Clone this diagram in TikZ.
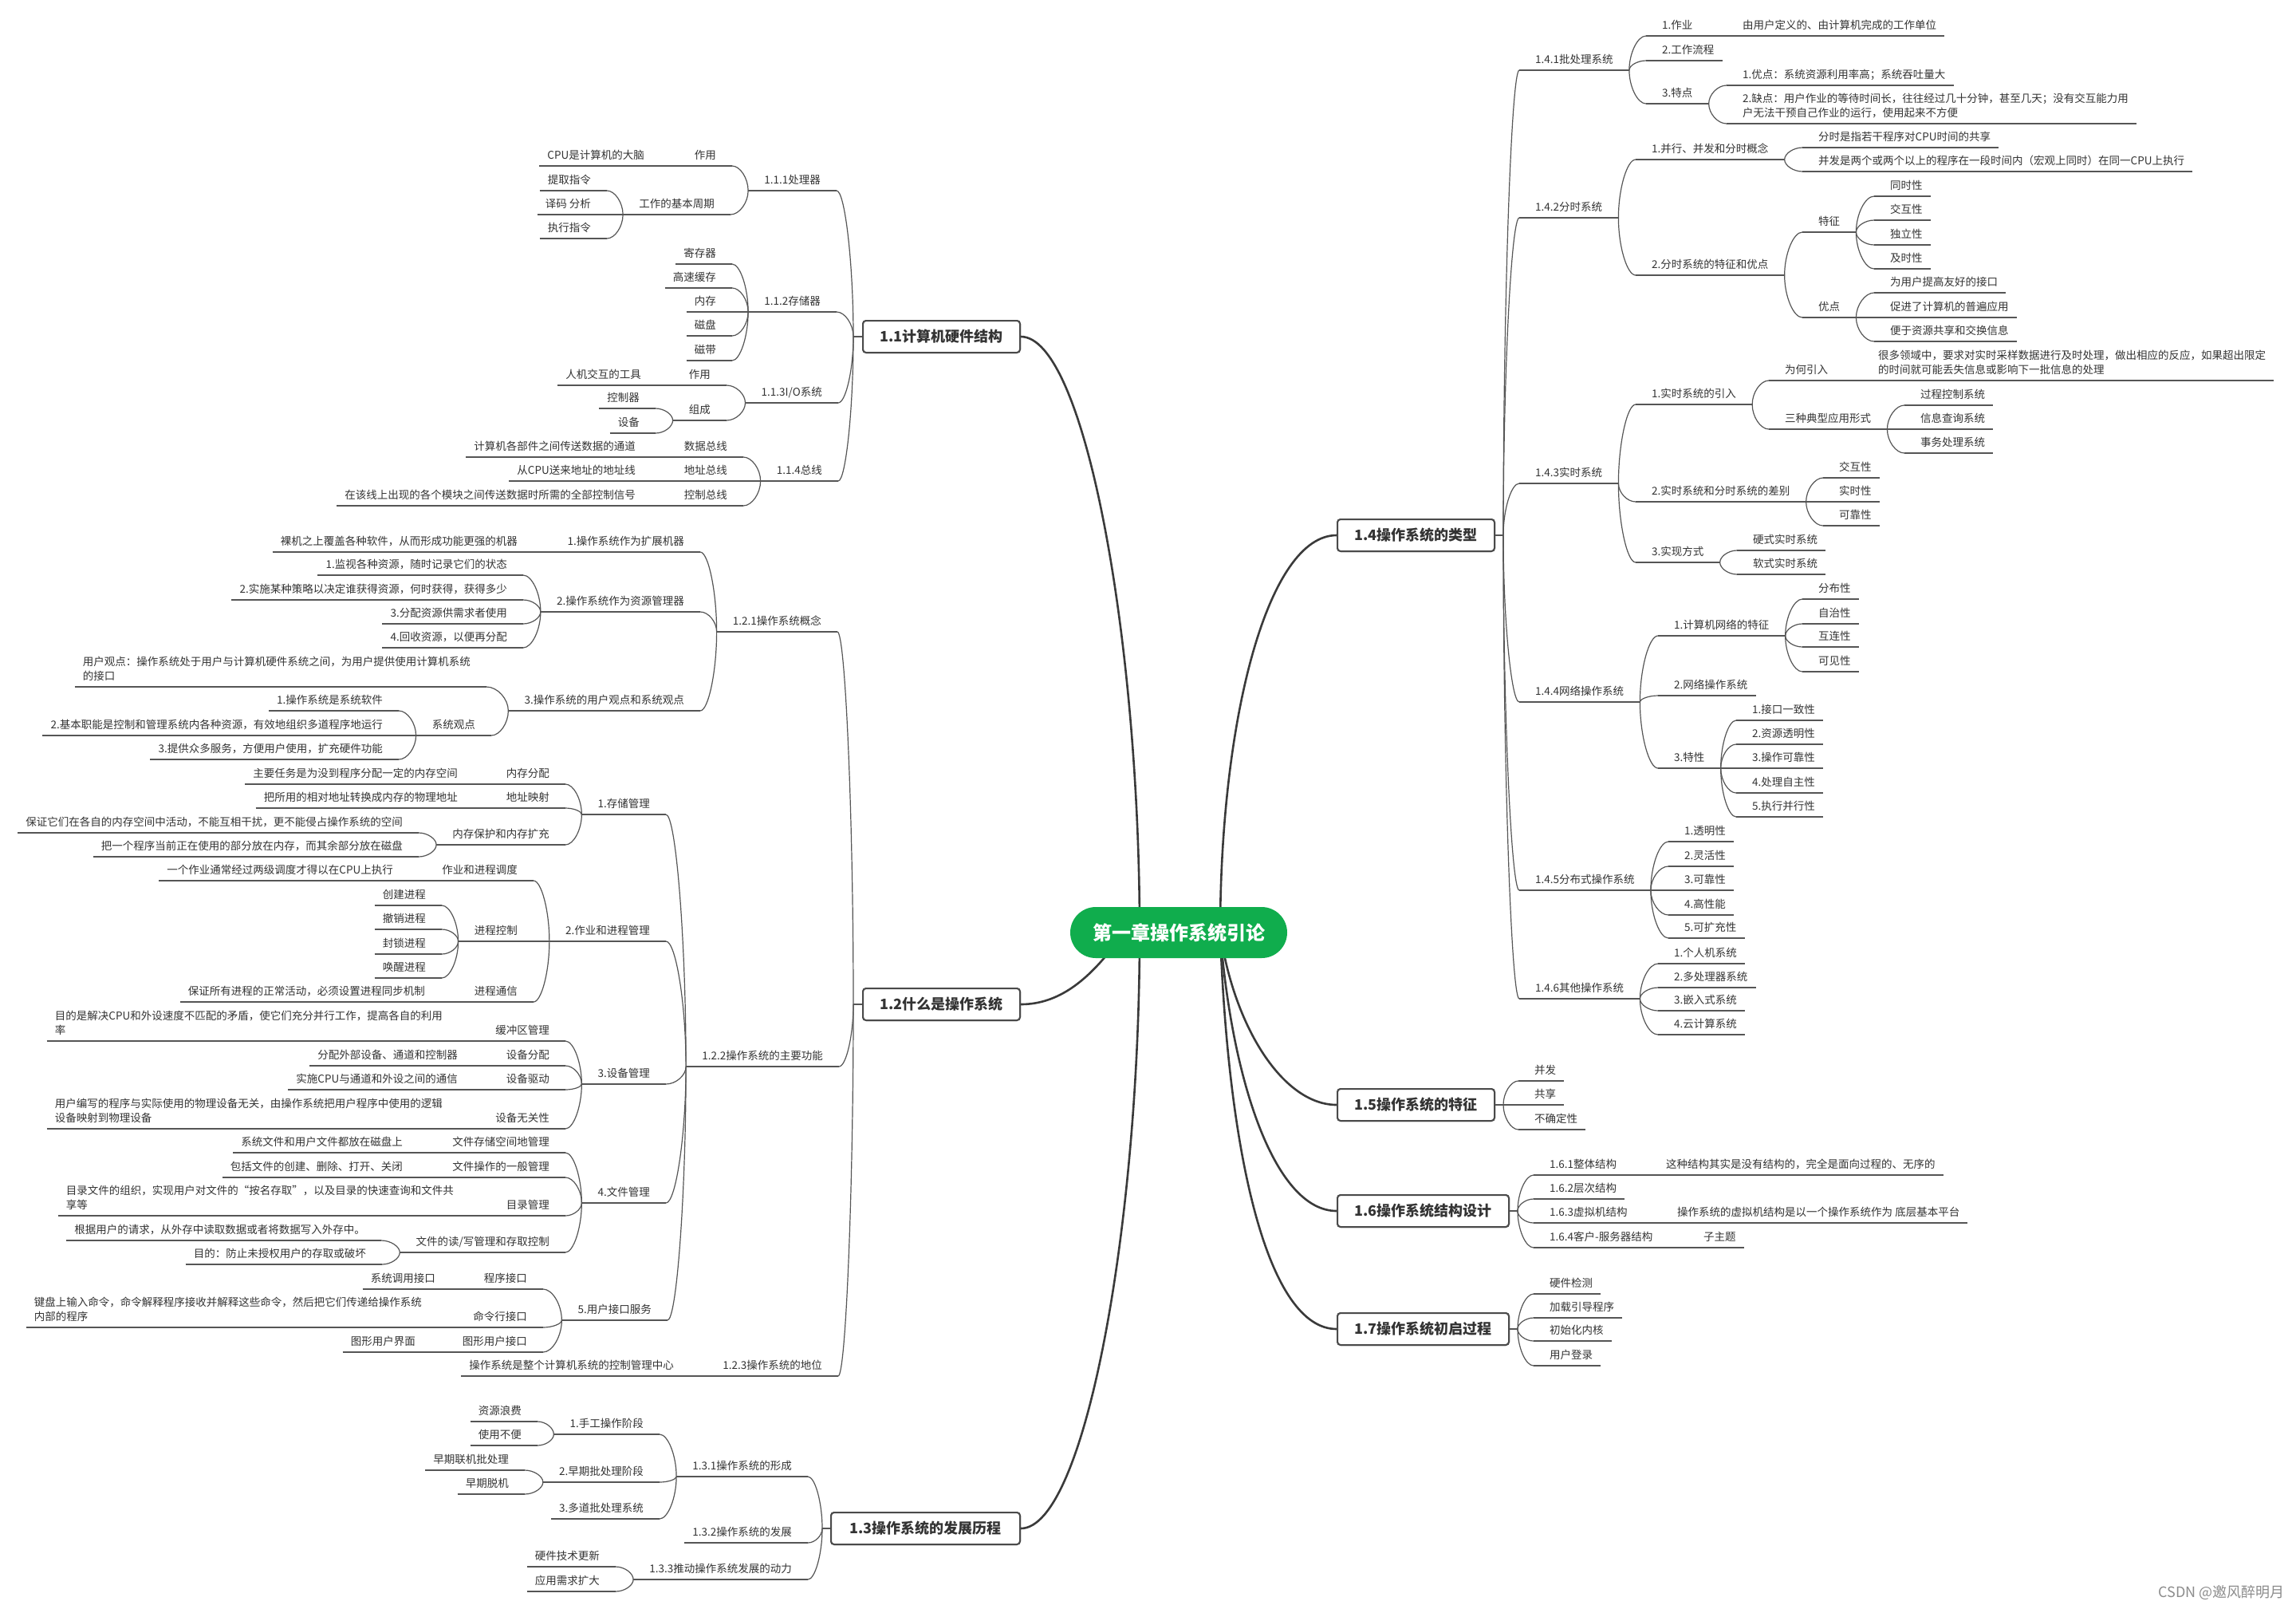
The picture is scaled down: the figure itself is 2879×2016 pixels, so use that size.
\documentclass[tikz,border=0pt]{standalone}
\usepackage{fontspec}
\setmainfont{Noto Sans CJK SC}
\usetikzlibrary{calc}
\definecolor{txt}{HTML}{333333}
\definecolor{ln}{HTML}{555555}
\definecolor{bx}{HTML}{4A4A4A}
\definecolor{mc}{HTML}{3A3A3A}
\definecolor{grn}{HTML}{10AD4D}
\tikzset{
  lt/.style={anchor=south east, inner xsep=10pt, inner ysep=5pt, text depth=3pt, align=left, text=txt, font=\fontsize{13.5}{18}\selectfont},
  rt/.style={anchor=south west, inner xsep=10pt, inner ysep=5pt, text depth=3pt, align=left, text=txt, font=\fontsize{13.5}{18}\selectfont},
  ul/.style={draw=ln, line width=1.2pt},
  br/.style={draw=ln, line width=1.2pt},
  mainc/.style={draw=mc, line width=2.6pt},
  topbox/.style={draw=bx, line width=2pt, rounded corners=4pt, fill=white, minimum height=40pt, inner sep=0pt, text=txt, font=\fontsize{18}{20}\bfseries\selectfont},
  pill/.style={fill=grn, rounded corners=32pt, minimum width=272pt, minimum height=64pt, inner sep=0pt, text=white, font=\fontsize{24}{26}\bfseries\selectfont},
}
% left-side leaf / parent, right-side leaf / parent: name, near x, line y, text
\newcommand\LF[4]{\node[lt] (#1) at (#2-10,#3) {#4};\coordinate (#1-n) at (#2,#3);\coordinate (#1-f) at (#1.south west);\draw[ul] (#1-f) -- (#1-n);}
\newcommand\LP[4]{\node[lt] (#1) at (#2-10,#3) {#4};\coordinate (#1-n) at (#2,#3);\coordinate (#1-f) at ([xshift=-10pt]#1.south west);\draw[ul] (#1-f) -- (#1-n);}
\newcommand\RF[4]{\node[rt] (#1) at (#2+10,#3) {#4};\coordinate (#1-n) at (#2,#3);\coordinate (#1-f) at (#1.south east);\draw[ul] (#1-n) -- (#1-f);}
\newcommand\RP[4]{\node[rt] (#1) at (#2+10,#3) {#4};\coordinate (#1-n) at (#2,#3);\coordinate (#1-f) at ([xshift=10pt]#1.south east);\draw[ul] (#1-n) -- (#1-f);}
\newcommand\CC[2]{\draw[br] let \p1=(#1-f), \p2=(#2-n) in (\p1) .. controls (\x1,{0.5*\y1+0.5*\y2}) and ({0.5*\x1+0.5*\x2},\y2) .. (\p2);}
\begin{document}
\begin{tikzpicture}[x=1pt,y=-1pt]
\useasboundingbox (0,0) rectangle (2879,2016);
\fill[white] (0,0) rectangle (2879,2016);

% ---------- top-level boxes ----------
\node[topbox, minimum width=197pt, anchor=east] (b11) at (1280,422) {1.1计算机硬件结构};
\node[topbox, minimum width=197pt, anchor=east] (b12) at (1280,1259) {1.2什么是操作系统};
\node[topbox, minimum width=237pt, anchor=east] (b13) at (1280,1916) {1.3操作系统的发展历程};
\node[topbox, minimum width=197pt, anchor=west] (b14) at (1676,671) {1.4操作系统的类型};
\node[topbox, minimum width=197pt, anchor=west] (b15) at (1676,1385) {1.5操作系统的特征};
\node[topbox, minimum width=215pt, anchor=west] (b16) at (1676,1518) {1.6操作系统结构设计};
\node[topbox, minimum width=215pt, anchor=west] (b17) at (1676,1666) {1.7操作系统初启过程};
\coordinate (c0) at (1478,1169);
\draw[mainc] ([xshift=-49pt]c0) .. controls (1429,800) and (1360,422) .. (b11.east);
\draw[mainc] ([xshift=-49pt]c0) .. controls (1429,1538) and (1360,1916) .. (b13.east);
\draw[mainc] ([xshift=-86pt,yshift=-23pt]c0) .. controls (1365,1225) and (1330,1259) .. (b12.east);
\draw[mainc] ([xshift=52pt]c0) .. controls (1530,900) and (1590,671) .. (b14.west);
\draw[mainc] ([xshift=52pt]c0) .. controls (1548,1290) and (1610,1385) .. (b15.west);
\draw[mainc] ([xshift=52pt]c0) .. controls (1545,1360) and (1600,1518) .. (b16.west);
\draw[mainc] ([xshift=52pt]c0) .. controls (1540,1450) and (1590,1666) .. (b17.west);
\node[pill] (c) at (c0) {第一章操作系统引论};
\node[topbox, minimum width=197pt, anchor=east] at (1280,422) {1.1计算机硬件结构};
\node[topbox, minimum width=197pt, anchor=east] at (1280,1259) {1.2什么是操作系统};
\node[topbox, minimum width=237pt, anchor=east] at (1280,1916) {1.3操作系统的发展历程};
\node[topbox, minimum width=197pt, anchor=west] at (1676,671) {1.4操作系统的类型};
\node[topbox, minimum width=197pt, anchor=west] at (1676,1385) {1.5操作系统的特征};
\node[topbox, minimum width=215pt, anchor=west] at (1676,1518) {1.6操作系统结构设计};
\node[topbox, minimum width=215pt, anchor=west] at (1676,1666) {1.7操作系统初启过程};
\foreach \b/\s in {b11/-11,b12/-11,b13/-10} {\coordinate (\b-f) at ([xshift=\s pt]\b.west); \draw[br] (\b.west) -- (\b-f);}
\foreach \b/\s in {b14/10,b15/10,b16/10,b17/10} {\coordinate (\b-f) at ([xshift=\s pt]\b.east); \draw[br] (\b.east) -- (\b-f);}

% ---------- 1.1 ----------
\LP{a1}{1049}{239}{1.1.1处理器}
\LP{a1a}{918}{208}{作用}
\LF{a1a1}{828}{208}{CPU是计算机的大脑}
\LP{a1b}{916}{269}{工作的基本周期}
\LF{a1b1}{761}{239}{提取指令}
\LF{a1b2}{761}{269}{译码 分析}
\LF{a1b3}{761}{299}{执行指令}
\LP{a2}{1049}{391}{1.1.2存储器}
\LF{a2a}{918}{331}{寄存器}
\LF{a2b}{918}{361}{高速缓存}
\LF{a2c}{918}{391}{内存}
\LF{a2d}{918}{421}{磁盘}
\LF{a2e}{918}{452}{磁带}
\LP{a3}{1051}{505}{1.1.3I/O系统}
\LP{a3a}{911}{483}{作用}
\LF{a3a1}{824}{483}{人机交互的工具}
\LP{a3b}{911}{527}{组成}
\LF{a3b1}{822}{512}{控制器}
\LF{a3b2}{822}{543}{设备}
\LP{a4}{1051}{603}{1.1.4总线}
\LP{a4a}{932}{573}{数据总线}
\LF{a4a1}{817}{573}{计算机各部件之间传送数据的通道}
\LP{a4b}{932}{603}{地址总线}
\LF{a4b1}{817}{603}{从CPU送来地址的地址线}
\LP{a4c}{932}{634}{控制总线}
\LF{a4c1}{817}{634}{在该线上出现的各个模块之间传送数据时所需的全部控制信号}
\CC{b11}{a1}\CC{b11}{a2}\CC{b11}{a3}\CC{b11}{a4}
\CC{a1}{a1a}\CC{a1a}{a1a1}\CC{a1}{a1b}\CC{a1b}{a1b1}\CC{a1b}{a1b2}\CC{a1b}{a1b3}
\CC{a2}{a2a}\CC{a2}{a2b}\CC{a2}{a2c}\CC{a2}{a2d}\CC{a2}{a2e}
\CC{a3}{a3a}\CC{a3a}{a3a1}\CC{a3}{a3b}\CC{a3b}{a3b1}\CC{a3b}{a3b2}
\CC{a4}{a4a}\CC{a4a}{a4a1}\CC{a4}{a4b}\CC{a4b}{a4b1}\CC{a4}{a4c}\CC{a4c}{a4c1}

% ---------- 1.2 ----------
\LP{c1}{1050}{792}{1.2.1操作系统概念}
\LP{c1a}{878}{692}{1.操作系统作为扩展机器}
\LF{c1a1}{669}{692}{裸机之上覆盖各种软件，从而形成功能更强的机器}
\LP{c1b}{878}{767}{2.操作系统作为资源管理器}
\LF{c1b1}{656}{721}{1.监视各种资源，随时记录它们的状态}
\LF{c1b2}{656}{752}{2.实施某种策略以决定谁获得资源，何时获得，获得多少}
\LF{c1b3}{656}{782}{3.分配资源供需求者使用}
\LF{c1b4}{656}{812}{4.回收资源，以便再分配}
\LP{c1c}{878}{891}{3.操作系统的用户观点和系统观点}
\LF{c1c1}{610}{861}{用户观点：操作系统处于用户与计算机硬件系统之间，为用户提供使用计算机系统\\的接口}
\LP{c1c2}{616}{922}{系统观点}
\LF{c1c2a}{500}{891}{1.操作系统是系统软件}
\LF{c1c2b}{500}{922}{2.基本职能是控制和管理系统内各种资源，有效地组织多道程序地运行}
\LF{c1c2c}{500}{952}{3.提供众多服务，方便用户使用，扩充硬件功能}
\CC{b12}{c1}\CC{c1}{c1a}\CC{c1a}{c1a1}\CC{c1}{c1b}\CC{c1b}{c1b1}\CC{c1b}{c1b2}\CC{c1b}{c1b3}\CC{c1b}{c1b4}
\CC{c1}{c1c}\CC{c1c}{c1c1}\CC{c1c}{c1c2}\CC{c1c2}{c1c2a}\CC{c1c2}{c1c2b}\CC{c1c2}{c1c2c}

\LP{c2}{1052}{1337}{1.2.2操作系统的主要功能}
\LP{c21}{835}{1021}{1.存储管理}
\LP{c21a}{709}{983}{内存分配}
\LF{c21a1}{594}{983}{主要任务是为没到程序分配一定的内存空间}
\LP{c21b}{709}{1013}{地址映射}
\LF{c21b1}{594}{1013}{把所用的相对地址转换成内存的物理地址}
\LP{c21c}{709}{1059}{内存保护和内存扩充}
\LF{c21c1}{525}{1044}{保证它们在各自的内存空间中活动，不能互相干扰，更不能侵占操作系统的空间}
\LF{c21c2}{525}{1074}{把一个程序当前正在使用的部分放在内存，而其余部分放在磁盘}
\LP{c22}{835}{1180}{2.作业和进程管理}
\LP{c22a}{669}{1104}{作业和进程调度}
\LF{c22a1}{513}{1104}{一个作业通常经过两级调度才得以在CPU上执行}
\LP{c22b}{669}{1180}{进程控制}
\LF{c22b1}{554}{1135}{创建进程}
\LF{c22b2}{554}{1165}{撤销进程}
\LF{c22b3}{554}{1196}{封锁进程}
\LF{c22b4}{554}{1226}{唤醒进程}
\LP{c22c}{669}{1256}{进程通信}
\LF{c22c1}{553}{1256}{保证所有进程的正常活动，必须设置进程同步机制}
\LP{c23}{835}{1359}{3.设备管理}
\LP{c23a}{709}{1305}{缓冲区管理}
\LF{c23a1}{575}{1305}{目的是解决CPU和外设速度不匹配的矛盾，使它们充分并行工作，提高各自的利用\\率}
\LP{c23b}{709}{1336}{设备分配}
\LF{c23b1}{594}{1336}{分配外部设备、通道和控制器}
\LP{c23c}{709}{1366}{设备驱动}
\LF{c23c1}{594}{1366}{实施CPU与通道和外设之间的通信}
\LP{c23d}{709}{1415}{设备无关性}
\LF{c23d1}{575}{1415}{用户编写的程序与实际使用的物理设备无关，由操作系统把用户程序中使用的逻辑\\设备映射到物理设备}
\LP{c24}{835}{1508}{4.文件管理}
\LP{c24a}{709}{1445}{文件存储空间地管理}
\LF{c24a1}{525}{1445}{系统文件和用户文件都放在磁盘上}
\LP{c24b}{709}{1476}{文件操作的一般管理}
\LF{c24b1}{525}{1476}{包括文件的创建、删除、打开、关闭}
\LP{c24c}{709}{1524}{目录管理}
\LF{c24c1}{589}{1524}{目录文件的组织，实现用户对文件的“按名存取”，以及目录的快速查询和文件共\\享等}
\LP{c24d}{709}{1570}{文件的读/写管理和存取控制}
\LF{c24d1}{478}{1555}{根据用户的请求，从外存中读取数据或者将数据写入外存中。}
\LF{c24d2}{479}{1585}{目的：防止未授权用户的存取或破坏}
\LP{c25}{837}{1655}{5.用户接口服务}
\LP{c25a}{681}{1616}{程序接口}
\LF{c25a1}{566}{1616}{系统调用接口}
\LP{c25b}{681}{1664}{命令行接口}
\LF{c25b1}{549}{1664}{键盘上输入命令，命令解释程序接收并解释这些命令，然后把它们传递给操作系统\\内部的程序}
\LP{c25c}{681}{1695}{图形用户接口}
\LF{c25c1}{541}{1695}{图形用户界面}
\CC{b12}{c2}
\CC{c2}{c21}\CC{c21}{c21a}\CC{c21a}{c21a1}\CC{c21}{c21b}\CC{c21b}{c21b1}\CC{c21}{c21c}\CC{c21c}{c21c1}\CC{c21c}{c21c2}
\CC{c2}{c22}\CC{c22}{c22a}\CC{c22a}{c22a1}\CC{c22}{c22b}\CC{c22b}{c22b1}\CC{c22b}{c22b2}\CC{c22b}{c22b3}\CC{c22b}{c22b4}\CC{c22}{c22c}\CC{c22c}{c22c1}
\CC{c2}{c23}\CC{c23}{c23a}\CC{c23a}{c23a1}\CC{c23}{c23b}\CC{c23b}{c23b1}\CC{c23}{c23c}\CC{c23c}{c23c1}\CC{c23}{c23d}\CC{c23d}{c23d1}
\CC{c2}{c24}\CC{c24}{c24a}\CC{c24a}{c24a1}\CC{c24}{c24b}\CC{c24b}{c24b1}\CC{c24}{c24c}\CC{c24c}{c24c1}\CC{c24}{c24d}\CC{c24d}{c24d1}\CC{c24d}{c24d2}
\CC{c2}{c25}\CC{c25}{c25a}\CC{c25a}{c25a1}\CC{c25}{c25b}\CC{c25b}{c25b1}\CC{c25}{c25c}\CC{c25c}{c25c1}
\LP{c3}{1051}{1725}{1.2.3操作系统的地位}
\LF{c3a}{865}{1725}{操作系统是整个计算机系统的控制管理中心}
\CC{b12}{c3}\CC{c3}{c3a}

% ---------- 1.3 ----------
\LP{d1}{1013}{1851}{1.3.1操作系统的形成}
\LP{d1a}{827}{1798}{1.手工操作阶段}
\LF{d1a1}{674}{1782}{资源浪费}
\LF{d1a2}{674}{1812}{使用不便}
\LP{d1b}{827}{1858}{2.早期批处理阶段}
\LF{d1b1}{658}{1843}{早期联机批处理}
\LF{d1b2}{658}{1873}{早期脱机}
\LF{d1c}{827}{1904}{3.多道批处理系统}
\LF{d2}{1013}{1934}{1.3.2操作系统的发展}
\LP{d3}{1013}{1980}{1.3.3推动操作系统发展的动力}
\LF{d3a}{772}{1964}{硬件技术更新}
\LF{d3b}{772}{1995}{应用需求扩大}
\CC{b13}{d1}\CC{d1}{d1a}\CC{d1a}{d1a1}\CC{d1a}{d1a2}\CC{d1}{d1b}\CC{d1b}{d1b1}\CC{d1b}{d1b2}\CC{d1}{d1c}
\CC{b13}{d2}\CC{b13}{d3}\CC{d3}{d3a}\CC{d3}{d3b}

% ---------- 1.4 ----------
\RP{e1}{1905}{88}{1.4.1批处理系统}
\RP{e1a}{2064}{45}{1.作业}
\RF{e1a1}{2165}{45}{由用户定义的、由计算机完成的工作单位}
\RF{e1b}{2064}{76}{2.工作流程}
\RP{e1c}{2064}{130}{3.特点}
\RF{e1c1}{2165}{107}{1.优点：系统资源利用率高；系统吞吐量大}
\RF{e1c2}{2165}{155}{2.缺点：用户作业的等待时间长，往往经过几十分钟，甚至几天；没有交互能力用\\户无法干预自己作业的运行，使用起来不方便}
\CC{b14}{e1}\CC{e1}{e1a}\CC{e1a}{e1a1}\CC{e1}{e1b}\CC{e1}{e1c}\CC{e1c}{e1c1}\CC{e1c}{e1c2}
\RP{e2}{1905}{273}{1.4.2分时系统}
\RP{e2a}{2051}{200}{1.并行、并发和分时概念}
\RF{e2a1}{2260}{185}{分时是指若干程序对CPU时间的共享}
\RF{e2a2}{2260}{215}{并发是两个或两个以上的程序在一段时间内（宏观上同时）在同一CPU上执行}
\RP{e2b}{2051}{345}{2.分时系统的特征和优点}
\RP{e2b1}{2260}{291}{特征}
\RF{e2b1a}{2350}{246}{同时性}
\RF{e2b1b}{2350}{276}{交互性}
\RF{e2b1c}{2350}{307}{独立性}
\RF{e2b1d}{2350}{337}{及时性}
\RP{e2b2}{2260}{398}{优点}
\RF{e2b2a}{2350}{367}{为用户提高友好的接口}
\RF{e2b2b}{2350}{398}{促进了计算机的普遍应用}
\RF{e2b2c}{2350}{428}{便于资源共享和交换信息}
\CC{b14}{e2}\CC{e2}{e2a}\CC{e2a}{e2a1}\CC{e2a}{e2a2}\CC{e2}{e2b}\CC{e2b}{e2b1}\CC{e2b}{e2b2}
\CC{e2b1}{e2b1a}\CC{e2b1}{e2b1b}\CC{e2b1}{e2b1c}\CC{e2b1}{e2b1d}\CC{e2b2}{e2b2a}\CC{e2b2}{e2b2b}\CC{e2b2}{e2b2c}
\RP{e3}{1905}{606}{1.4.3实时系统}
\RP{e3a}{2051}{507}{1.实时系统的引入}
\RP{e3a1}{2218}{477}{为何引入}
\RF{e3a1a}{2335}{477}{很多领域中，要求对实时采样数据进行及时处理，做出相应的反应，如果超出限定\\的时间就可能丢失信息或影响下一批信息的处理}
\RP{e3a2}{2218}{538}{三种典型应用形式}
\RF{e3a2a}{2388}{508}{过程控制系统}
\RF{e3a2b}{2388}{538}{信息查询系统}
\RF{e3a2c}{2388}{568}{事务处理系统}
\RP{e3b}{2051}{629}{2.实时系统和分时系统的差别}
\RF{e3b1}{2286}{599}{交互性}
\RF{e3b2}{2286}{629}{实时性}
\RF{e3b3}{2286}{659}{可靠性}
\RP{e3c}{2051}{705}{3.实现方式}
\RF{e3c1}{2178}{690}{硬式实时系统}
\RF{e3c2}{2178}{720}{软式实时系统}
\CC{b14}{e3}\CC{e3}{e3a}\CC{e3a}{e3a1}\CC{e3a1}{e3a1a}\CC{e3a}{e3a2}\CC{e3a2}{e3a2a}\CC{e3a2}{e3a2b}\CC{e3a2}{e3a2c}
\CC{e3}{e3b}\CC{e3b}{e3b1}\CC{e3b}{e3b2}\CC{e3b}{e3b3}\CC{e3}{e3c}\CC{e3c}{e3c1}\CC{e3c}{e3c2}
\RP{e4}{1905}{880}{1.4.4网络操作系统}
\RP{e4a}{2079}{797}{1.计算机网络的特征}
\RF{e4a1}{2260}{751}{分布性}
\RF{e4a2}{2260}{782}{自治性}
\RF{e4a3}{2260}{811}{互连性}
\RF{e4a4}{2260}{842}{可见性}
\RF{e4b}{2079}{872}{2.网络操作系统}
\RP{e4c}{2079}{963}{3.特性}
\RF{e4c1}{2177}{903}{1.接口一致性}
\RF{e4c2}{2177}{933}{2.资源透明性}
\RF{e4c3}{2177}{963}{3.操作可靠性}
\RF{e4c4}{2177}{994}{4.处理自主性}
\RF{e4c5}{2177}{1024}{5.执行并行性}
\CC{b14}{e4}\CC{e4}{e4a}\CC{e4a}{e4a1}\CC{e4a}{e4a2}\CC{e4a}{e4a3}\CC{e4a}{e4a4}\CC{e4}{e4b}
\CC{e4}{e4c}\CC{e4c}{e4c1}\CC{e4c}{e4c2}\CC{e4c}{e4c3}\CC{e4c}{e4c4}\CC{e4c}{e4c5}
\RP{e5}{1905}{1116}{1.4.5分布式操作系统}
\RF{e5a}{2092}{1055}{1.透明性}
\RF{e5b}{2092}{1086}{2.灵活性}
\RF{e5c}{2092}{1116}{3.可靠性}
\RF{e5d}{2092}{1147}{4.高性能}
\RF{e5e}{2092}{1176}{5.可扩充性}
\CC{b14}{e5}\CC{e5}{e5a}\CC{e5}{e5b}\CC{e5}{e5c}\CC{e5}{e5d}\CC{e5}{e5e}
\RP{e6}{1905}{1252}{1.4.6其他操作系统}
\RF{e6a}{2079}{1208}{1.个人机系统}
\RF{e6b}{2079}{1238}{2.多处理器系统}
\RF{e6c}{2079}{1267}{3.嵌入式系统}
\RF{e6d}{2079}{1297}{4.云计算系统}
\CC{b14}{e6}\CC{e6}{e6a}\CC{e6}{e6b}\CC{e6}{e6c}\CC{e6}{e6d}

% ---------- 1.5 ----------
\RF{f1}{1904}{1355}{并发}
\RF{f2}{1904}{1385}{共享}
\RF{f3}{1904}{1416}{不确定性}
\CC{b15}{f1}\CC{b15}{f2}\CC{b15}{f3}

% ---------- 1.6 ----------
\RP{g1}{1923}{1473}{1.6.1整体结构}
\RF{g1a}{2069}{1473}{这种结构其实是没有结构的，完全是面向过程的、无序的}
\RF{g2}{1923}{1503}{1.6.2层次结构}
\RP{g3}{1923}{1533}{1.6.3虚拟机结构}
\RF{g3a}{2083}{1533}{操作系统的虚拟机结构是以一个操作系统作为 底层基本平台}
\RP{g4}{1923}{1564}{1.6.4客户-服务器结构}
\RF{g4a}{2116}{1564}{子主题}
\CC{b16}{g1}\CC{g1}{g1a}\CC{b16}{g2}\CC{b16}{g3}\CC{g3}{g3a}\CC{b16}{g4}\CC{g4}{g4a}

% ---------- 1.7 ----------
\RF{h1}{1923}{1622}{硬件检测}
\RF{h2}{1923}{1652}{加载引导程序}
\RF{h3}{1923}{1681}{初始化内核}
\RF{h4}{1923}{1712}{用户登录}
\CC{b17}{h1}\CC{b17}{h2}\CC{b17}{h3}\CC{b17}{h4}

\node[anchor=east, text=black!45, font=\fontsize{18}{20}\selectfont] (wm) at (2868,1996) {CSDN @邀风醉明月};
\end{tikzpicture}
\end{document}
